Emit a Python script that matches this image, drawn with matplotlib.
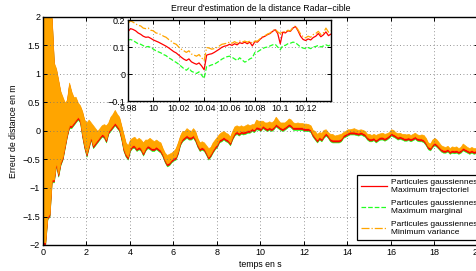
import numpy as np
import matplotlib
matplotlib.use('Agg')
import matplotlib.pyplot as plt

plt.rcParams['font.family'] = ['Liberation Sans', 'DejaVu Sans']

# ---------------- data ----------------
# main axes: envelope (upper / lower) of the noisy error curves, sampled every 0.1 s
t_main = np.round(np.arange(201) * 0.1, 1)
band_hi = [2.0, 2.0, 2.0, 2.0, 2.0, 1.2, 1.1, 0.9, 0.7, 0.6,
           0.5, 0.55, 0.85, 0.7, 0.6, 0.6, 0.5, 0.45, 0.35, 0.2,
           0.15, 0.2, 0.15, 0.1, 0.05, 0.0, 0.05, 0.1, 0.12, 0.1,
           0.15, 0.25, 0.3, 0.37, 0.3, 0.25, 0.1, -0.05, -0.2, -0.25,
           -0.15, -0.12, -0.1, -0.15, -0.12, -0.15, -0.2, -0.15, -0.15, -0.12,
           -0.15, -0.18, -0.15, -0.18, -0.2, -0.3, -0.38, -0.42, -0.4, -0.38,
           -0.35, -0.3, -0.2, -0.08, 0.0, 0.0, 0.05, 0.02, 0.0, 0.05,
           0.0, -0.12, -0.2, -0.18, -0.2, -0.25, -0.3, -0.28, -0.2, -0.15,
           -0.1, -0.05, -0.02, 0.0, -0.03, -0.05, -0.1, 0.0, 0.08, 0.1,
           0.08, 0.1, 0.08, 0.1, 0.12, 0.1, 0.12, 0.12, 0.2, 0.18,
           0.18, 0.18, 0.15, 0.15, 0.17, 0.15, 0.18, 0.25, 0.2, 0.15,
           0.15, 0.15, 0.18, 0.22, 0.2, 0.15, 0.14, 0.15, 0.14, 0.14,
           0.13, 0.13, 0.12, 0.1, 0.02, 0.0, -0.05, -0.02, -0.03, 0.02,
           0.03, -0.02, -0.05, -0.05, -0.08, -0.07, -0.06, -0.05, -0.02, 0.0,
           0.03, 0.03, 0.04, 0.05, 0.03, 0.02, 0.03, 0.02, 0.0, -0.05,
           -0.05, -0.07, -0.05, -0.07, -0.05, -0.04, -0.03, -0.05, -0.04, -0.02,
           0.03, 0.02, -0.02, -0.04, -0.03, -0.05, -0.05, -0.06, -0.05, -0.07,
           -0.05, -0.03, -0.06, -0.07, -0.06, -0.07, -0.12, -0.2, -0.22, -0.15,
           -0.12, -0.15, -0.2, -0.25, -0.27, -0.28, -0.26, -0.3, -0.27, -0.28,
           -0.27, -0.3, -0.28, -0.22, -0.25, -0.28, -0.3, -0.28, -0.3, -0.3,
           -0.32]
band_lo = [-2.0, -2.0, -1.55, -1.5, -0.9, -0.9, -0.6, -0.8, -0.6, -0.5,
           -0.3, -0.1, 0.05, 0.05, 0.1, 0.15, 0.2, 0.15, -0.1, -0.3,
           -0.45, -0.3, -0.15, -0.3, -0.25, -0.2, -0.15, -0.1, -0.12, -0.2,
           -0.05, 0.0, 0.05, 0.1, 0.05, 0.0, -0.15, -0.35, -0.45, -0.5,
           -0.35, -0.3, -0.3, -0.35, -0.32, -0.35, -0.43, -0.35, -0.3, -0.32,
           -0.35, -0.35, -0.32, -0.35, -0.38, -0.45, -0.55, -0.62, -0.6, -0.55,
           -0.52, -0.5, -0.4, -0.25, -0.18, -0.15, -0.12, -0.15, -0.15, -0.12,
           -0.18, -0.28, -0.35, -0.33, -0.35, -0.42, -0.5, -0.45, -0.38, -0.32,
           -0.28, -0.2, -0.18, -0.15, -0.18, -0.2, -0.25, -0.15, -0.08, -0.05,
           -0.08, -0.05, -0.06, -0.05, -0.03, -0.03, 0.0, -0.02, 0.03, 0.02,
           0.0, 0.05, 0.02, 0.0, 0.02, 0.0, 0.03, 0.08, 0.05, 0.02,
           0.0, 0.02, 0.05, 0.08, 0.06, 0.02, 0.02, 0.02, 0.02, 0.02,
           0.0, 0.0, 0.0, -0.02, -0.1, -0.15, -0.2, -0.15, -0.18, -0.12,
           -0.08, -0.12, -0.18, -0.2, -0.2, -0.2, -0.2, -0.18, -0.12, -0.1,
           -0.08, -0.06, -0.06, -0.06, -0.07, -0.08, -0.06, -0.08, -0.1, -0.15,
           -0.18, -0.18, -0.16, -0.2, -0.17, -0.15, -0.15, -0.17, -0.15, -0.12,
           -0.08, -0.1, -0.12, -0.15, -0.14, -0.15, -0.17, -0.17, -0.16, -0.18,
           -0.16, -0.14, -0.17, -0.18, -0.18, -0.2, -0.25, -0.32, -0.34, -0.28,
           -0.25, -0.28, -0.32, -0.36, -0.38, -0.38, -0.36, -0.4, -0.38, -0.39,
           -0.38, -0.4, -0.38, -0.34, -0.36, -0.38, -0.4, -0.38, -0.4, -0.39,
           -0.4]

# inset (zoom on 9.98 s .. 10.14 s), sampled every 2 ms
t_zoom = np.round(9.98 + np.arange(81) * 0.002, 3)
err_traj = [0.157, 0.168, 0.165, 0.160, 0.152, 0.147, 0.140, 0.136, 0.137, 0.132,
            0.126, 0.122, 0.118, 0.113, 0.108, 0.103, 0.097, 0.090, 0.083, 0.078,
            0.070, 0.062, 0.055, 0.050, 0.056, 0.045, 0.040, 0.036, 0.041, 0.030,
            0.016, 0.070, 0.073, 0.075, 0.080, 0.086, 0.092, 0.099, 0.103, 0.105,
            0.110, 0.106, 0.112, 0.108, 0.116, 0.113, 0.118, 0.112, 0.118, 0.104,
            0.120, 0.118, 0.128, 0.136, 0.140, 0.146, 0.150, 0.158, 0.164, 0.150,
            0.112, 0.155, 0.152, 0.160, 0.158, 0.170, 0.176, 0.160, 0.140, 0.128,
            0.124, 0.130, 0.126, 0.135, 0.140, 0.150, 0.138, 0.145, 0.156, 0.142,
            0.148]
err_marg = [0.125, 0.128, 0.124, 0.118, 0.112, 0.110, 0.105, 0.100, 0.102, 0.098,
            0.092, 0.086, 0.082, 0.078, 0.072, 0.068, 0.060, 0.055, 0.048, 0.043,
            0.036, 0.028, 0.020, 0.014, 0.022, 0.010, 0.006, 0.002, 0.008, -0.004,
            -0.016, 0.028, 0.030, 0.034, 0.036, 0.042, 0.048, 0.055, 0.060, 0.064,
            0.066, 0.062, 0.056, 0.050, 0.060, 0.052, 0.044, 0.048, 0.056, 0.060,
            0.080, 0.082, 0.088, 0.094, 0.098, 0.100, 0.104, 0.108, 0.110, 0.100,
            0.090, 0.105, 0.106, 0.112, 0.114, 0.118, 0.116, 0.108, 0.100, 0.096,
            0.094, 0.098, 0.094, 0.100, 0.102, 0.106, 0.100, 0.104, 0.108, 0.104,
            0.110]
err_mv = [0.188, 0.197, 0.192, 0.186, 0.180, 0.178, 0.170, 0.168, 0.170, 0.162,
          0.160, 0.152, 0.150, 0.146, 0.140, 0.136, 0.128, 0.122, 0.114, 0.110,
          0.100, 0.092, 0.086, 0.080, 0.086, 0.074, 0.070, 0.066, 0.072, 0.060,
          0.050, 0.098, 0.096, 0.092, 0.094, 0.098, 0.104, 0.110, 0.112, 0.114,
          0.118, 0.114, 0.120, 0.114, 0.122, 0.118, 0.122, 0.118, 0.122, 0.114,
          0.122, 0.122, 0.130, 0.138, 0.142, 0.148, 0.152, 0.160, 0.166, 0.156,
          0.150, 0.158, 0.155, 0.162, 0.160, 0.172, 0.178, 0.164, 0.148, 0.138,
          0.134, 0.140, 0.136, 0.146, 0.150, 0.158, 0.146, 0.152, 0.170, 0.155,
          0.160]

labels = ['Particules gaussiennes\nMaximum trajectoriel',
          'Particules gaussiennes\nMaximum marginal',
          'Particules gaussiennes\nMinimum variance']
colors = ['#ff0000', '#22ff22', '#ffa500']
styles = ['-', '--', '-.']

main_xticks = [0, 2, 4, 6, 8, 10, 12, 14, 16, 18, 20]
main_yticks = [-2, -1.5, -1, -0.5, 0, 0.5, 1, 1.5, 2]
zoom_xticks = [9.98, 10.0, 10.02, 10.04, 10.06, 10.08, 10.1, 10.12]
zoom_xlabels = ['9.98', '10', '10.02', '10.04', '10.06', '10.08', '10.1', '10.12']
zoom_yticks = [-0.1, 0, 0.1, 0.2]

# ---------------- figure ----------------
fig = plt.figure(figsize=(4.77, 2.71), dpi=100)
W, H = 477, 271
ax = fig.add_axes([43 / W, 1 - 245 / H, (478 - 43) / W, (245 - 17) / H])

hi = np.array(band_hi)
lo = np.array(band_lo)
ax.fill_between(t_main, lo, hi - 0.04, color=colors[1], lw=0.5)
ax.fill_between(t_main, lo + 0.015, hi - 0.025, color=colors[0], lw=0.5)
ax.fill_between(t_main, lo + 0.05, hi, color=colors[2], lw=0.5)

ax.set_xlim(0, 20)
ax.set_ylim(-2, 2)
ax.set_xticks(main_xticks)
ax.set_yticks(main_yticks)
ax.set_xticklabels([str(v) for v in main_xticks])
ax.set_yticklabels(['\u22122', '\u22121.5', '\u22121', '\u22120.5', '0', '0.5', '1', '1.5', '2'])
ax.grid(True, linestyle=(0, (1, 3)), color='0.45', lw=0.6)
ax.tick_params(direction='in', length=3, width=0.7, labelsize=6.5, top=True, right=True, pad=2)
for s in ax.spines.values():
    s.set_linewidth(1.0)
ax.set_title("Erreur d'estimation de la distance Radar\u2212cible", fontsize=6.3, pad=4)
ax.set_xlabel('temps en s', fontsize=6.3, labelpad=2)
ax.set_ylabel('Erreur de distance en m', fontsize=6.3, labelpad=3)

# inset
axi = fig.add_axes([128 / W, 1 - 101 / H, (331 - 128) / W, (101 - 20) / H])
handles = []
for y, c, ls, lab in zip([err_traj, err_marg, err_mv], colors, styles, labels):
    ln, = axi.plot(t_zoom, y, color=c, ls=ls, lw=0.9, label=lab)
    handles.append(ln)
axi.set_xlim(9.98, 10.14)
axi.set_ylim(-0.1, 0.2)
axi.set_xticks(zoom_xticks)
axi.set_xticklabels(zoom_xlabels)
axi.set_yticks(zoom_yticks)
axi.set_yticklabels(['\u22120.1', '0', '0.1', '0.2'])
axi.grid(True, linestyle=(0, (1, 3)), color='0.45', lw=0.6)
axi.tick_params(direction='in', length=3, width=0.7, labelsize=6.5, top=True, right=True, pad=2)
for s in axi.spines.values():
    s.set_linewidth(1.0)

leg = ax.legend(handles=handles, labels=labels, loc='lower left',
                bbox_to_anchor=((357 - 43) / 435, 0.022), fontsize=6.0,
                fancybox=False, edgecolor='black', framealpha=1,
                handlelength=3.1, handletextpad=0.5, labelspacing=0.75,
                borderpad=0.45, borderaxespad=0)
leg.get_frame().set_linewidth(0.9)

fig.savefig('out.png', dpi=100)
